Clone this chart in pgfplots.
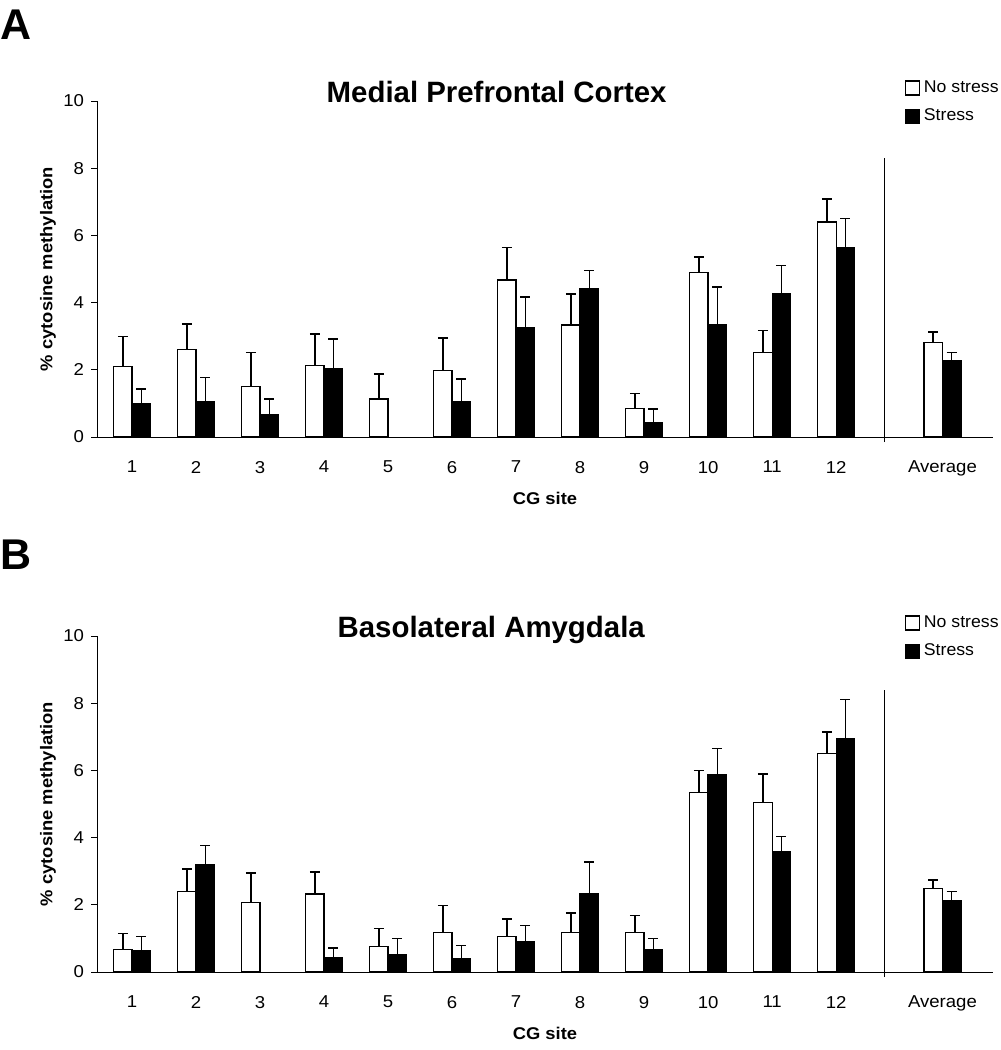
\documentclass[border=0pt]{standalone}
\usepackage{fontspec}
\setmainfont{Liberation Sans}[FakeStretch=1.08]
\newfontfamily\titlefont{Liberation Sans}
\newfontfamily\legendfont{Liberation Sans}[FakeStretch=1.04]
\usepackage{pgfplots}
\pgfplotsset{compat=1.18}

\pgfplotsset{
  panel/.style={
    scale only axis, width=448pt, height=168pt,
    xmin=0.453, xmax=14.45, ymin=0, ymax=10,
    axis lines*=left,
    axis line style={line width=0.5pt, black},
    ytick={0,2,4,6,8,10},
    tick align=outside, major tick length=3pt,
    xtick={1,2,3,4,5,6,7,8,9,10,11,12,13.66},
    xticklabels={1,2,3,4,5,6,7,8,9,10,11,12,Average},
    x tick style={draw=none},
    y tick style={line width=0.5pt, black},
    tick label style={font=\fontsize{8.6}{10}\selectfont},
    xticklabel style={yshift=-5.5pt},
    /pgf/number format/assume math mode=true,
    ybar, bar width=9.25pt,
    clip=false,
    xlabel={CG site},
    ylabel={\% cytosine methylation},
    every axis x label/.style={at={(axis description cs:0.5,-0.1815)}, anchor=center, font=\fontsize{8.5}{10}\selectfont\bfseries},
    every axis y label/.style={at={(axis description cs:-0.0547,0.5)}, rotate=90, anchor=center, font=\fontsize{8.5}{10}\selectfont\bfseries},
    legend cell align=left,
    legend style={draw=none, fill=none, at={(axis description cs:0.9015,1.0625)}, anchor=north west,
      inner sep=0pt, row sep=6.5pt, font=\legendfont\fontsize{8.5}{10}\selectfont,
      nodes={inner sep=0pt},
      /tikz/every odd column/.append style={column sep=1.8pt}},
    legend image code/.code={\draw[#1, line width=0.6pt] (0pt,-3.5pt) rectangle (7pt,3.5pt);},
  },
  nostress/.style={fill=white, draw=black, line width=0.65pt, bar shift=-4.625pt,
    error bars/.cd, y dir=plus, y explicit,
    error bar style={line width=0.75pt, black},
    error mark=-, error mark options={rotate=90, mark size=2.5pt, line width=0.75pt, black}},
  stress/.style={fill=black, draw=black, line width=0.65pt, bar shift=4.625pt,
    error bars/.cd, y dir=plus, y explicit,
    error bar style={line width=0.75pt, black},
    error mark=-, error mark options={rotate=90, mark size=2.5pt, line width=0.75pt, black}},
}

\begin{document}
\begin{tikzpicture}
\useasboundingbox (0pt,0pt) rectangle (500.5pt,-525pt);

\node[anchor=base west, inner sep=0pt, font=\titlefont\bfseries\fontsize{21.5}{24}\selectfont] at (0pt,-19.5pt) {A};
\node[anchor=base west, inner sep=0pt, font=\titlefont\bfseries\fontsize{21.5}{24}\selectfont] at (0pt,-284.5pt) {B};

% Panel A
\begin{axis}[panel, at={(48.5pt,-218.5pt)}, anchor=south west,
  title={Medial Prefrontal Cortex},
  every axis title/.style={at={(axis description cs:0.446,1)}, anchor=base, yshift=-0.6pt, font=\titlefont\bfseries\fontsize{14.7}{17}\selectfont}]
\addplot[nostress] coordinates {
  (1,2.10) +- (0,0.89)
  (2,2.61) +- (0,0.75)
  (3,1.50) +- (0,1.02)
  (4,2.13) +- (0,0.94)
  (5,1.13) +- (0,0.75)
  (6,1.97) +- (0,0.98)
  (7,4.67) +- (0,0.97)
  (8,3.33) +- (0,0.92)
  (9,0.84) +- (0,0.46)
  (10,4.89) +- (0,0.47)
  (11,2.52) +- (0,0.65)
  (12,6.40) +- (0,0.69)
  (13.66,2.82) +- (0,0.30)
};
\addplot[stress] coordinates {
  (1,0.98) +- (0,0.45)
  (2,1.06) +- (0,0.71)
  (3,0.68) +- (0,0.45)
  (4,2.02) +- (0,0.89)
  (6,1.06) +- (0,0.66)
  (7,3.26) +- (0,0.90)
  (8,4.43) +- (0,0.53)
  (9,0.44) +- (0,0.39)
  (10,3.34) +- (0,1.12)
  (11,4.26) +- (0,0.85)
  (12,5.65) +- (0,0.85)
  (13.66,2.28) +- (0,0.24)
};
\addplot[sharp plot, black, line width=0.5pt, forget plot, mark=none] coordinates {(12.75,-0.15) (12.75,8.3)};
\legend{No stress, Stress}
\end{axis}

% Panel B
\begin{axis}[panel, at={(48.5pt,-486pt)}, anchor=south west,
  title={Basolateral Amygdala},
  every axis title/.style={at={(axis description cs:0.440,1)}, anchor=base, yshift=-0.8pt, font=\titlefont\bfseries\fontsize{14.7}{17}\selectfont}]
\addplot[nostress] coordinates {
  (1,0.67) +- (0,0.47)
  (2,2.40) +- (0,0.67)
  (3,2.06) +- (0,0.88)
  (4,2.32) +- (0,0.66)
  (5,0.75) +- (0,0.54)
  (6,1.18) +- (0,0.80)
  (7,1.05) +- (0,0.53)
  (8,1.18) +- (0,0.58)
  (9,1.18) +- (0,0.50)
  (10,5.35) +- (0,0.65)
  (11,5.05) +- (0,0.84)
  (12,6.51) +- (0,0.63)
  (13.66,2.48) +- (0,0.26)
};
\addplot[stress] coordinates {
  (1,0.64) +- (0,0.41)
  (2,3.20) +- (0,0.57)
  (4,0.42) +- (0,0.29)
  (5,0.51) +- (0,0.49)
  (6,0.39) +- (0,0.40)
  (7,0.89) +- (0,0.49)
  (8,2.32) +- (0,0.95)
  (9,0.67) +- (0,0.33)
  (10,5.86) +- (0,0.79)
  (11,3.58) +- (0,0.45)
  (12,6.95) +- (0,1.16)
  (13.66,2.11) +- (0,0.29)
};
\addplot[sharp plot, black, line width=0.5pt, forget plot, mark=none] coordinates {(12.75,-0.15) (12.75,8.4)};
\legend{No stress, Stress}
\end{axis}
\end{tikzpicture}
\end{document}
